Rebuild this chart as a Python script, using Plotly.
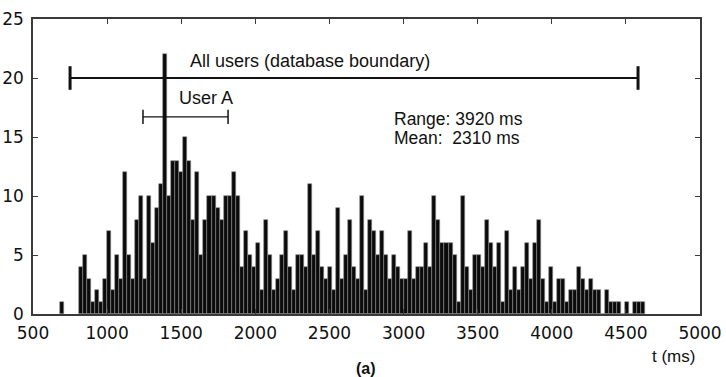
import numpy as np
import plotly.graph_objects as go

# ---------------- data ----------------
counts = [
    4, 5, 3, 1, 2, 1, 3, 7, 2, 5, 3, 12, 5, 3, 8, 10, 3, 10, 6, 9,
    11, 22, 10, 13, 13, 12, 15, 13, 8, 12, 5, 8, 10, 10, 9, 8, 10, 10, 12, 10, 4, 7, 5, 4, 6, 2, 8,
    5, 2, 3, 5, 7, 4, 2, 5, 5, 4, 11, 5, 7, 4, 3, 4, 2, 9, 3, 5, 8, 4, 3, 10, 2, 8, 7, 5, 7,
    5, 3, 5, 4, 3, 3, 7, 3, 4, 4, 6, 4, 10, 8, 6, 6, 6, 5, 1, 10, 4, 2, 5, 5, 4, 8, 6, 4,
    6, 1, 7, 2, 4, 2, 4, 6, 3, 6, 8, 3, 1, 4, 1, 3, 3, 1, 2, 2, 4, 3, 2, 3,
    2, 2, 0, 2, 1, 1, 1, 0, 1, 0, 1, 1, 1,
]
bin_start_ms = 810
bin_width_ms = 27.1
outlier_t = [697]
outlier_n = [1]

all_users_range = [750, 4582]
all_users_level = 20
user_a_range = [1242, 1816]
user_a_level = 16.7

x_ticks = [500, 1000, 1500, 2000, 2500, 3000, 3500, 4000, 4500, 5000]
y_ticks = [0, 5, 10, 15, 20, 25]

# ---------------- figure ----------------
FONT = "Liberation Sans, Arial, sans-serif"
TICKFONT = "DejaVu Sans, sans-serif"
centers = bin_start_ms + bin_width_ms * (np.arange(len(counts)) + 0.5)
xs = list(outlier_t) + list(centers)
ys = list(outlier_n) + list(counts)

fig = go.Figure()
fig.add_trace(go.Bar(
    x=xs, y=ys, width=bin_width_ms,
    marker=dict(color="#0b0b0b", line=dict(color="#8c8c8c", width=0.6)),
    showlegend=False, hoverinfo="x+y",
))

def range_bar(rng, level, cap, lw, cap_w):
    fig.add_shape(type="line", xref="x", yref="y", x0=rng[0], x1=rng[1],
                  y0=level, y1=level, line=dict(color="#111", width=lw))
    for xv in rng:
        fig.add_shape(type="line", xref="x", yref="y", x0=xv, x1=xv,
                      y0=level - cap, y1=level + cap, line=dict(color="#111", width=cap_w))

range_bar(all_users_range, all_users_level, 1.0, 2, 3)
range_bar(user_a_range, user_a_level, 0.6, 1.2, 1.5)

def txt(x, y, s, size=18, **kw):
    fig.add_annotation(x=x, y=y, xref="x", yref="y", text=s, showarrow=False,
                       xanchor="left", yanchor="middle",
                       font=dict(family=FONT, size=size, color="#111"), **kw)

txt(1546, 21.4, "All users (database boundary)")
txt(1472, 18.3, "User A")
txt(2922, 16.5, "Range: 3920 ms", size=17.5)
txt(2922, 14.9, "Mean: &nbsp;2310 ms", size=17.5)

fig.add_annotation(x=0.9955, y=-0.145, xref="paper", yref="paper", text="t (ms)",
                   showarrow=False, xanchor="right", yanchor="middle",
                   font=dict(family=FONT, size=17, color="#111"))
fig.add_annotation(x=0.499, y=-0.185, xref="paper", yref="paper", text="<b>(a)</b>",
                   showarrow=False, xanchor="center", yanchor="middle",
                   font=dict(family=FONT, size=16, color="#111"))

axis_common = dict(showgrid=False, zeroline=False, showline=True, mirror="ticks",
                   linecolor="#3a3a3a", linewidth=1.5, ticks="inside", ticklen=5,
                   tickcolor="#3a3a3a", tickwidth=1.2, automargin=False,
                   tickfont=dict(family=TICKFONT, size=17, color="#111"))
fig.update_layout(
    width=726, height=377,
    margin=dict(l=33, r=26, t=19, b=63),
    paper_bgcolor="white", plot_bgcolor="white",
    bargap=0,
    xaxis=dict(range=[500, 5000], tickvals=x_ticks, ticklabelstandoff=3, **axis_common),
    yaxis=dict(range=[0, 25], tickvals=y_ticks, ticklabelstandoff=4, **axis_common),
)
fig.write_html("out.html")
